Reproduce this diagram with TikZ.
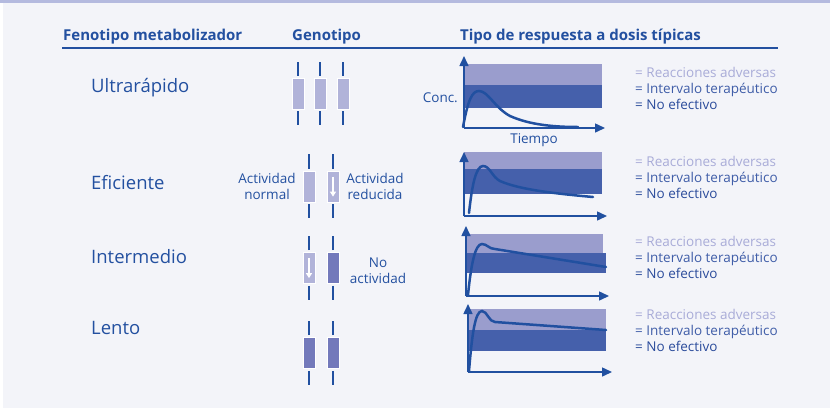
\documentclass[tikz,border=0pt]{standalone}
\usepackage{fontspec}
\setmainfont{Open Sans}
\usetikzlibrary{arrows.meta}
\definecolor{bgc}{HTML}{F3F4F9}
\definecolor{strip}{HTML}{B4BADF}
\definecolor{tblue}{HTML}{2350A0}
\definecolor{advband}{HTML}{9A9DCD}
\definecolor{thband}{HTML}{4560AB}
\definecolor{advtxt}{HTML}{A9ACD8}
\definecolor{thtxt}{HTML}{3F5DA8}
\definecolor{netxt}{HTML}{2A4B9B}
\definecolor{barlight}{HTML}{B1B3D9}
\definecolor{bardark}{HTML}{7379BB}
\definecolor{axisc}{HTML}{2150A0}
\tikzset{
  head/.style={font=\fontsize{15}{17}\selectfont\bfseries, text=tblue, inner sep=0pt, anchor=base west},
  rowlbl/.style={font=\fontsize{18.5}{20}\selectfont, text=tblue, inner sep=0pt, anchor=base west},
  small/.style={font=\fontsize{13.5}{16}\selectfont, text=tblue, inner sep=0pt, align=center},
  leg/.style={font=\fontsize{13.5}{15}\selectfont, inner sep=0pt, anchor=base west},
  barl/.style={draw=white, line width=0.8pt, fill=barlight, minimum width=12pt, minimum height=31pt, inner sep=0pt},
  bard/.style={draw=white, line width=0.8pt, fill=bardark, minimum width=12pt, minimum height=31pt, inner sep=0pt},
  tick/.style={draw=axisc, line width=1.3pt},
  axis/.style={draw=axisc, line width=1.5pt, -{Triangle[length=10pt,width=9pt]}},
  curve/.style={draw=axisc, line width=2.5pt, line cap=round},
  whitearrow/.style={draw=white, line width=1.3pt, -{Triangle[length=5pt,width=6pt]}}
}
\begin{document}
\begin{tikzpicture}[x=1pt,y=-1pt]
\useasboundingbox (0,0) rectangle (830,408);
\fill[white] (0,0) rectangle (830,408);
\fill[bgc] (3,0) rectangle (830,408);
\fill[strip] (0,0) rectangle (830,3);

% headers
\node[head] (h1) at (63,40) {Fenotipo metabolizador};
\node[head] (h2) at (292,40) {Genotipo};
\node[head] (h3) at (460,40) {Tipo de respuesta a dosis típicas};
\coordinate (ulL) at (62,48);
\coordinate (ulR) at (778,48);
\draw[tblue, line width=1.3pt] (ulL) -- (ulR);

% row labels
\node[rowlbl] (r1) at (91,92) {Ultrarápido};
\node[rowlbl] (r2) at (91,189) {Eficiente};
\node[rowlbl] (r3) at (91,263) {Intermedio};
\node[rowlbl] (r4) at (91,334) {Lento};

% genotype row 1
\foreach \i/\x in {a/298,b/320,c/343}{
  \node[barl] (g1\i) at (\x,93.5) {};
  \draw[tick] (g1\i.north) ++(0,-2) -- ++(0,-14);
  \draw[tick] (g1\i.south) ++(0,2) -- ++(0,14);
}
% genotype row 2
\node[barl] (g2a) at (309,186.5) {};
\node[barl] (g2b) at (333,186.5) {};
\foreach \n in {g2a,g2b}{
  \draw[tick] (\n.north) ++(0,-2) -- ++(0,-15);
  \draw[tick] (\n.south) ++(0,2) -- ++(0,14);
}
\draw[whitearrow] (g2b.north) ++(0,6) -- ++(0,20);
\node[small] (t2a) at (267,186) {Actividad\\normal};
\node[small] (t2b) at (375,186) {Actividad\\reducida};
% genotype row 3
\node[barl] (g3a) at (309,268) {};
\node[bard] (g3b) at (333,268) {};
\foreach \n in {g3a,g3b}{
  \draw[tick] (\n.north) ++(0,-2) -- ++(0,-14);
  \draw[tick] (\n.south) ++(0,2) -- ++(0,14);
}
\draw[whitearrow] (g3a.north) ++(0,6) -- ++(0,20);
\node[small] (t3) at (378,270.5) {No\\actividad};
% genotype row 4
\node[bard] (g4a) at (309,353) {};
\node[bard] (g4b) at (333,353) {};
\foreach \n in {g4a,g4b}{
  \draw[tick] (\n.north) ++(0,-2) -- ++(0,-14);
  \draw[tick] (\n.south) ++(0,2) -- ++(0,14);
}

% graph 1
\fill[advband] (464,64) rectangle (602,85);
\fill[thband] (464,85) rectangle (602,108);
\coordinate (o1) at (464,128);
\coordinate (y1) at (464,56);
\coordinate (x1) at (605,128);
\draw[axis] (o1) -- (y1);
\draw[axis] (o1) -- (x1);
\draw[curve] (463,127) .. controls (468,100) and (472,91) .. (479,91) .. controls (488,91) and (495,108) .. (510,116) .. controls (530,125) and (555,127) .. (578,127);
\node[small, anchor=base east] (conc) at (458,102) {Conc.};
\node[small, anchor=base] (tiempo) at (534,143.5) {Tiempo};

% graph 2
\fill[advband] (464,152) rectangle (602,169);
\fill[thband] (464,169) rectangle (602,194);
\coordinate (o2) at (464,216);
\coordinate (y2) at (464,152);
\coordinate (x2) at (607,216);
\draw[axis] (o2) -- (y2);
\draw[axis] (o2) -- (x2);
\draw[curve] (469,213) .. controls (472,185) and (476,166) .. (483,166) .. controls (490,166) and (492,177) .. (500,181) .. controls (520,190) and (560,194) .. (593,197);

% graph 3
\fill[advband] (466,234) rectangle (603,253);
\fill[thband] (466,253) rectangle (606,273);
\coordinate (o3) at (466,296);
\coordinate (y3) at (466,226);
\coordinate (x3) at (609,296);
\draw[axis] (o3) -- (y3);
\draw[axis] (o3) -- (x3);
\draw[curve] (468,295) .. controls (471,265) and (475,244) .. (482,244) .. controls (487,244) and (489,249) .. (495,249) -- (606,267);

% graph 4
\fill[advband] (468,309) rectangle (606,330);
\fill[thband] (468,330) rectangle (606,351);
\coordinate (o4) at (468,372);
\coordinate (y4) at (468,304);
\coordinate (x4) at (612,372);
\draw[axis] (o4) -- (y4);
\draw[axis] (o4) -- (x4);
\draw[curve] (469,371) .. controls (472,335) and (475,311) .. (482,311) .. controls (487,311) and (489,322) .. (495,322) -- (606,330);

% legends
\foreach \r/\y in {1/77,2/166,3/246,4/319}{
  \node[leg, text=advtxt] (la\r) at (635,\y) {= Reacciones adversas};
  \node[leg, text=thtxt] (lb\r) at (635,\y+16) {= Intervalo terapéutico};
  \node[leg, text=netxt] (lc\r) at (635,\y+32) {= No efectivo};
}
\end{tikzpicture}
\end{document}
